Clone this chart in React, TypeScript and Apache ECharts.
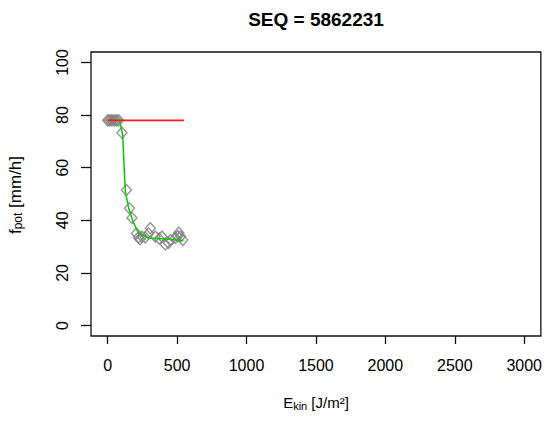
import React, { useEffect, useRef } from "react";
import * as echarts from "echarts";

const titleText = "SEQ = 5862231";
const xTicks = [0, 500, 1000, 1500, 2000, 2500, 3000];
const yTicks = [0, 20, 40, 60, 80, 100];

// observed points (E_kin, f_pot)
const obsX = [0, 12, 25, 38, 52, 66, 80, 103, 135, 157, 175, 208, 222, 232, 247, 270, 295, 307, 343, 372, 391, 415, 438, 452, 486, 505, 512, 525, 541];
const obsY = [78, 78, 78, 78, 78, 78, 78, 73.3, 51.5, 44.6, 40.9, 35, 33.5, 32.8, 33.8, 33.5, 35, 37, 33.8, 33, 33.8, 30.8, 31.4, 32.5, 33.3, 34, 35.3, 33.8, 32.5];

// fitted curve (green)
const fitX = [0, 86, 108, 127, 151, 182, 223, 295, 391, 546];
const fitY = [78, 78, 72.5, 51, 44.7, 39.6, 35, 33.3, 33, 32.3];

// maximum line (red)
const maxX = [0, 550];
const maxY = [78, 78];

const FONT = "'Liberation Sans', Arial, Helvetica, sans-serif";

export default function App() {
  const ref = useRef<HTMLDivElement>(null);
  useEffect(() => {
    document.body.style.margin = "0";
    const chart = echarts.init(ref.current!, null, { renderer: "svg" });
    const pts = obsX.map((x, i) => [x, obsY[i]]);
    const fit = fitX.map((x, i) => [x, fitY[i]]);
    const mx = maxX.map((x, i) => [x, maxY[i]]);
    chart.setOption({
      animation: false,
      backgroundColor: "#ffffff",
      textStyle: { fontFamily: FONT },
      grid: {
        left: 91,
        right: 4,
        top: 52,
        bottom: 85,
        show: true,
        borderColor: "#111",
        borderWidth: 1.3,
        backgroundColor: "transparent",
      },
      xAxis: {
        type: "value",
        min: -120,
        max: 3120,
        splitLine: { show: false },
        axisLine: { show: false, onZero: false },
        axisTick: {
          show: true,
          length: 8,
          customValues: xTicks,
          lineStyle: { color: "#111", width: 1.3 },
        },
        axisLabel: {
          customValues: xTicks,
          formatter: (v: number) => String(v),
          color: "#000",
          fontSize: 16,
          fontFamily: FONT,
          margin: 21,
        },
      },
      yAxis: {
        type: "value",
        min: -4,
        max: 104,
        splitLine: { show: false },
        axisLine: { show: false, onZero: false },
        axisTick: {
          show: true,
          length: 10,
          customValues: yTicks,
          lineStyle: { color: "#111", width: 1.3 },
        },
        axisLabel: {
          customValues: yTicks,
          formatter: (v: number) => String(v),
          color: "#000",
          fontSize: 16,
          fontFamily: FONT,
          rotate: 90,
          margin: 21,
        },
      },
      graphic: [
        {
          type: "text",
          x: 316,
          y: 19,
          style: {
            text: titleText,
            fill: "#000",
            font: `bold 19px ${FONT}`,
            align: "center",
            verticalAlign: "middle",
          },
        },
        {
          type: "text",
          x: 316,
          y: 402,
          style: {
            text: "{m|E}{s|kin}{m| [J/m²]}",
            align: "center",
            verticalAlign: "middle",
            rich: {
              m: { fontSize: 15, fontFamily: FONT, fill: "#000", lineHeight: 18 },
              s: { fontSize: 11, fontFamily: FONT, fill: "#000", lineHeight: 10, verticalAlign: "bottom" },
            },
          },
        },
        {
          type: "text",
          x: 15,
          y: 195,
          rotation: Math.PI / 2,
          style: {
            text: "{m|f}{s|pot}{m| [mm/h]}",
            align: "center",
            verticalAlign: "middle",
            rich: {
              m: { fontSize: 17, fontFamily: FONT, fill: "#000", lineHeight: 18 },
              s: { fontSize: 12, fontFamily: FONT, fill: "#000", lineHeight: 10, verticalAlign: "bottom" },
            },
          },
        },
      ],
      series: [
        {
          type: "scatter",
          data: pts,
          symbol: "diamond",
          symbolSize: [10, 11],
          itemStyle: { color: "rgba(255,255,255,0)", borderColor: "#808080", borderWidth: 1.5 },
          z: 2,
        },
        {
          type: "line",
          data: fit,
          showSymbol: false,
          lineStyle: { color: "#00cc00", width: 1.5 },
          z: 3,
        },
        {
          type: "line",
          data: mx,
          showSymbol: false,
          lineStyle: { color: "#ff1a1a", width: 1.6 },
          z: 4,
        },
      ],
    });
    return () => chart.dispose();
  }, []);
  return <div ref={ref} style={{ width: 545, height: 421 }} />;
}
